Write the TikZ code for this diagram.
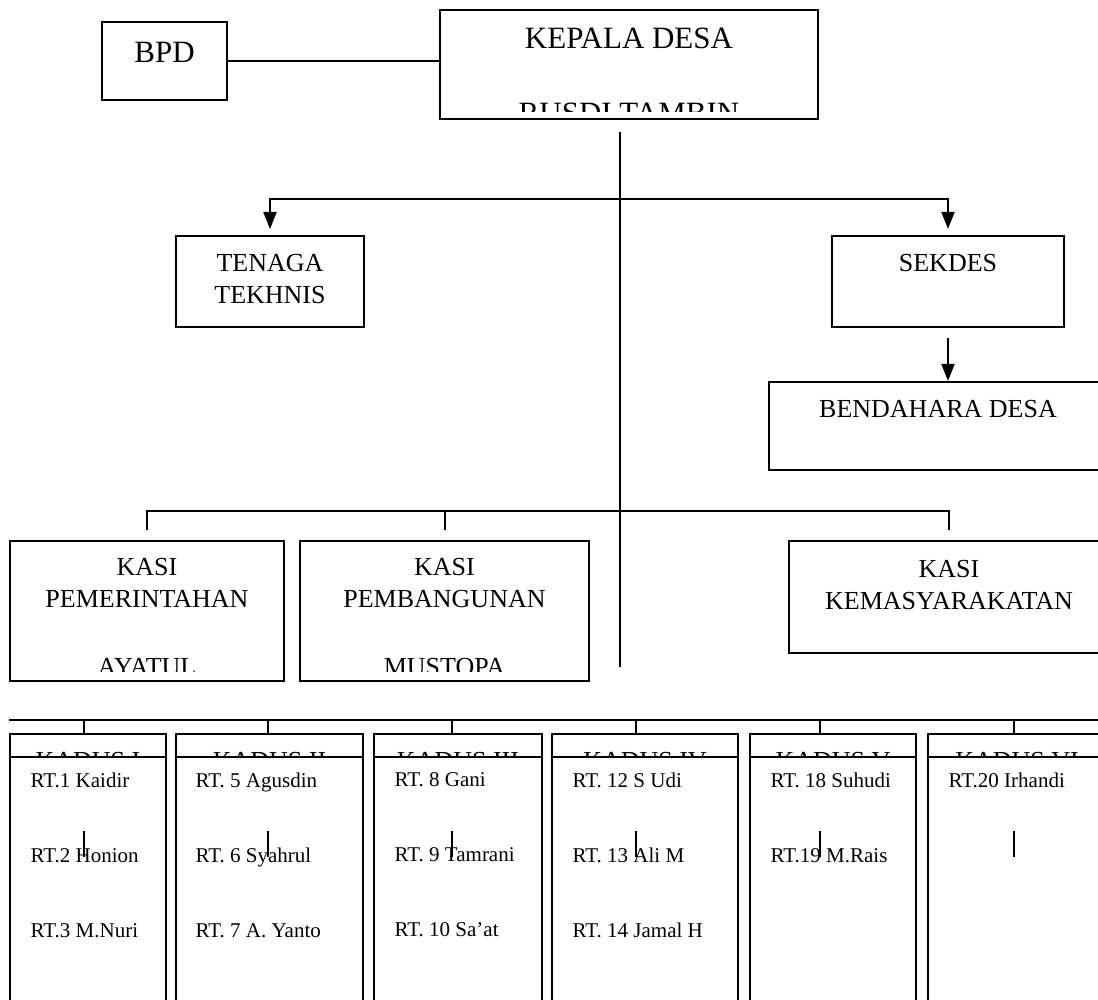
\documentclass[tikz,border=0pt]{standalone}
\usepackage{fontspec}
\setmainfont{Liberation Serif}
\usetikzlibrary{positioning,arrows.meta}

\tikzset{
  box/.style={draw=black, rectangle, inner sep=0pt},
  colbox/.style={box, line width=1.3pt, fill=white},
  lbl/.style={inner sep=0pt, align=center, font=\fontsize{13}{16}\selectfont},
  biglbl/.style={inner sep=0pt, align=center, font=\fontsize{15.5}{19}\selectfont},
  rtlbl/.style={inner sep=0pt, align=left, font=\fontsize{10.5}{37.5}\selectfont},
  >={Triangle[length=8.5pt,width=6.5pt]}
}

\begin{document}
\begin{tikzpicture}[x=0.5pt, y=-0.5pt, line width=1pt]
  \useasboundingbox (0,0) rectangle (1098,1000);
  \clip (0,0) rectangle (1098,1000);

  % top
  \node[box, minimum width=62.5pt, minimum height=39pt] (bpd) at (164.5,61) {};
  \node[box, minimum width=189pt, minimum height=54.5pt] (kepala) at (629,64.5) {};
  \node[biglbl, below=10pt of bpd.north] (bpdlbl) {BPD};
  \node[biglbl, below=9pt of kepala.north] (kepalalbl) {KEPALA DESA};
  \begin{scope}
    \clip (kepala.north west) rectangle ([yshift=4pt]kepala.south east);
    \node[biglbl, below=46.5pt of kepala.north] (rusdi) {RUSDI TAMBIN};
  \end{scope}
  \draw (bpd.east) -- (bpd.east -| kepala.west);

  % second row
  \node[box, minimum width=94pt, minimum height=45.5pt] (tenaga) at (270,281.5) {};
  \node[box, minimum width=116pt, minimum height=45.5pt] (sekdes) at (948,281.5) {};
  \node[box, minimum width=169pt, minimum height=44pt] (bendahara) at (938,426) {};
  \node[lbl, below=9pt of tenaga.north] (tenagalbl) {TENAGA\\TEKHNIS};
  \node[lbl, below=9pt of sekdes.north] (sekdeslbl) {SEKDES};
  \node[lbl, below=9pt of bendahara.north] (bendaharalbl) {BENDAHARA DESA};

  % kasi
  \node[box, minimum width=137pt, minimum height=70pt] (kasipem) at (147,611) {};
  \node[box, minimum width=144.5pt, minimum height=70pt] (kasibang) at (444.5,611) {};
  \node[box, minimum width=160pt, minimum height=56pt] (kasikms) at (949,597) {};
  \node[lbl, below=8.5pt of kasipem.north] (kasipemlbl) {KASI\\PEMERINTAHAN};
  \node[lbl, below=8.5pt of kasibang.north] (kasibanglbl) {KASI\\PEMBANGUNAN};
  \node[lbl, below=9.5pt of kasikms.north] (kasikmslbl) {KASI\\KEMASYARAKATAN};
  \begin{scope}
    \clip (kasipem.north west) rectangle ([yshift=5.5pt]kasibang.south east);
    \node[lbl, below=58.5pt of kasipem.north] (ayatul) {AYATUL};
    \node[lbl, below=58.5pt of kasibang.north] (mustopa) {MUSTOPA};
  \end{scope}

  % lines
  \coordinate (trunktop) at (620,132);
  \coordinate (trunkend) at (620,667);
  \coordinate (branch) at (620,199);
  \coordinate (kasibar) at (620,511);
  \draw (trunktop) -- (trunkend);
  \draw[->, shorten >=3pt] (branch) -| (tenaga.north);
  \draw[->, shorten >=3pt] (branch) -| (sekdes.north);
  \draw[->, shorten <=5pt] (sekdes.south) -- (sekdes.south |- bendahara.north);
  \draw ([yshift=5pt]kasipem.north) |- (kasikms.north |- kasibar) -- ([yshift=5pt]kasikms.north);
  \draw ([yshift=5pt]kasibang.north) -- (kasibang.north |- kasibar);

  % kadus
  \node[colbox, minimum width=78pt, minimum height=143pt] (kadus1) at (88,877) {};
  \node[colbox, minimum width=93.5pt, minimum height=143pt] (kadus2) at (269.5,877) {};
  \node[colbox, minimum width=84pt, minimum height=143pt] (kadus3) at (458,877) {};
  \node[colbox, minimum width=93pt, minimum height=143pt] (kadus4) at (645,877) {};
  \node[colbox, minimum width=83pt, minimum height=143pt] (kadus5) at (833,877) {};
  \node[colbox, minimum width=89pt, minimum height=143pt] (kadus6) at (1017,877) {};
  \node[lbl, below=9.5pt of kadus1.north] (kadus1lbl) {KADUS I};
  \node[lbl, below=9.5pt of kadus2.north] (kadus2lbl) {KADUS II};
  \node[lbl, below=9.5pt of kadus3.north] (kadus3lbl) {KADUS III};
  \node[lbl, below=9.5pt of kadus4.north] (kadus4lbl) {KADUS IV};
  \node[lbl, below=9.5pt of kadus5.north] (kadus5lbl) {KADUS V};
  \node[lbl, below=9.5pt of kadus6.north] (kadus6lbl) {KADUS VI};

  \node[colbox, minimum width=78pt, minimum height=131.5pt] (rt1) at (88,888.5) {};
  \node[colbox, minimum width=93.5pt, minimum height=131.5pt] (rt2) at (269.5,888.5) {};
  \node[colbox, minimum width=84pt, minimum height=131.5pt] (rt3) at (458,888.5) {};
  \node[colbox, minimum width=93pt, minimum height=131.5pt] (rt4) at (645,888.5) {};
  \node[colbox, minimum width=83pt, minimum height=131.5pt] (rt5) at (833,888.5) {};
  \node[colbox, minimum width=89pt, minimum height=131.5pt] (rt6) at (1017,888.5) {};
  \node[rtlbl, below right=8pt and 10.5pt of rt1.north west] (rt1lbl) {RT.1 Kaidir\\RT.2 Honion\\RT.3 M.Nuri};
  \node[rtlbl, below right=8pt and 10pt of rt2.north west] (rt2lbl) {RT. 5 Agusdin\\RT. 6 Syahrul\\RT. 7 A. Yanto};
  \node[rtlbl, below right=8pt and 10.5pt of rt3.north west] (rt3lbl) {RT. 8 Gani\\RT. 9 Tamrani\\RT. 10 Sa’at};
  \node[rtlbl, below right=8pt and 10.5pt of rt4.north west] (rt4lbl) {RT. 12 S Udi\\RT. 13 Ali M\\RT. 14 Jamal H};
  \node[rtlbl, below right=8pt and 10.5pt of rt5.north west] (rt5lbl) {RT. 18 Suhudi\\RT.19 M.Rais};
  \node[rtlbl, below right=8pt and 10.5pt of rt6.north west] (rt6lbl) {RT.20 Irhandi};

  \coordinate (kbarL) at (9,720);
  \coordinate (kbarR) at (1098,720);
  \coordinate (kd1) at (84,720);
  \coordinate (kd2) at (268,720);
  \coordinate (kd3) at (452,720);
  \coordinate (kd4) at (636,720);
  \coordinate (kd5) at (820,720);
  \coordinate (kd6) at (1014,720);
  \draw (kbarL) -- (kbarR);
  \draw (kd1) -- (kd1 |- kadus1.north);
  \draw (kd2) -- (kd2 |- kadus2.north);
  \draw (kd3) -- (kd3 |- kadus3.north);
  \draw (kd4) -- (kd4 |- kadus4.north);
  \draw (kd5) -- (kd5 |- kadus5.north);
  \draw (kd6) -- (kd6 |- kadus6.north);
  \draw ([yshift=-55.5pt]kd1) -- ++(0,26);
  \draw ([yshift=-55.5pt]kd2) -- ++(0,26);
  \draw ([yshift=-55.5pt]kd3) -- ++(0,26);
  \draw ([yshift=-55.5pt]kd4) -- ++(0,26);
  \draw ([yshift=-55.5pt]kd5) -- ++(0,26);
  \draw ([yshift=-55.5pt]kd6) -- ++(0,26);
\end{tikzpicture}
\end{document}
